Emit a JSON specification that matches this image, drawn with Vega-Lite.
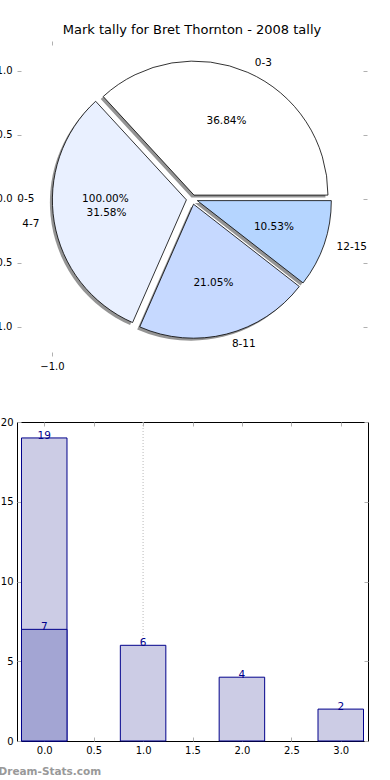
{
  "$schema": "https://vega.github.io/schema/vega-lite/v6.json",
  "autosize": "pad",
  "padding": {"left": -13, "top": 23, "right": 0, "bottom": 0},
  "background": "white",
  "bounds": "flush",
  "spacing": 66,
  "resolve": {"scale": {"color": "independent", "x": "independent", "y": "independent", "theta": "independent"}},
  "config": {
    "font": "DejaVu Sans",
    "view": {"stroke": null},
    "axis": {"grid": false, "domain": false, "labelFont": "DejaVu Sans", "labelFontSize": 10, "labelColor": "#000", "tickColor": "#b0b0b0", "tickSize": -4, "tickWidth": 1, "labelPadding": 9, "titleFont": "DejaVu Sans"},
    "text": {"font": "DejaVu Sans"}
  },
  "datasets": {
    "slices": [
      {"idx": 0, "label": "0-3", "count": 7, "pct": "36.84%", "ex": 0.014, "ey": 0.03},
      {"idx": 1, "label": "4-7", "count": 6, "pct": "31.58%", "ex": -0.04, "ey": -0.007},
      {"idx": 2, "label": "8-11", "count": 4, "pct": "21.05%", "ex": 0.011, "ey": -0.041},
      {"idx": 3, "label": "12-15", "count": 2, "pct": "10.53%", "ex": 0.038, "ey": -0.013}
    ],
    "extra": [
      {"label": "0-5", "pct": "100.00%", "ex": -0.04, "ey": 0}
    ],
    "bars": [
      {"bin": 0, "count": 19, "series": "all"},
      {"bin": 1, "count": 6, "series": "all"},
      {"bin": 2, "count": 4, "series": "all"},
      {"bin": 3, "count": 2, "series": "all"},
      {"bin": 0, "count": 7, "series": "player"}
    ],
    "grid": [{"pos": 1}]
  },
  "vconcat": [
    {
      "width": 350,
      "height": 315,
      "title": {"text": "Mark tally for Bret Thornton - 2008 tally", "font": "DejaVu Sans", "fontSize": 13, "fontWeight": "normal", "color": "#000", "baseline": "alphabetic", "offset": -6, "anchor": "middle"},
      "data": {"name": "slices"},
      "resolve": {"axis": {"x": "independent", "y": "independent"}},
      "encoding": {
        "x": {"field": "ex", "type": "quantitative", "scale": {"domain": [-1.25, 1.25], "nice": false, "zero": false}},
        "y": {"field": "ey", "type": "quantitative", "scale": {"domain": [-1.227, 1.234], "nice": false, "zero": false}}
      },
      "layer": [
        {
          "mark": {"type": "arc", "outerRadius": 134, "fill": "#4d4d4d", "opacity": 0.6, "xOffset": -2.5, "yOffset": 2.5},
          "encoding": {
            "x": {"field": "ex", "type": "quantitative", "axis": {"orient": "bottom", "values": [-1], "format": ".1f", "title": null, "labelPadding": 9}},
            "y": {"field": "ey", "type": "quantitative", "axis": {"orient": "left", "values": [-1, -0.5, 0, 0.5, 1], "format": ".1f", "title": null}},
            "theta": {"field": "count", "type": "quantitative", "stack": true, "scale": {"domain": [0, 19], "range": [1.5708, -4.7124]}},
            "order": {"field": "idx", "type": "quantitative"}
          }
        },
        {
          "mark": {"type": "arc", "outerRadius": 134, "stroke": "#000", "strokeWidth": 0.8},
          "encoding": {
            "x": {"field": "ex", "type": "quantitative", "axis": {"orient": "top", "values": [-1], "labels": false, "title": null}},
            "y": {"field": "ey", "type": "quantitative", "axis": {"orient": "right", "values": [-1, -0.5, 0, 0.5, 1], "labels": false, "title": null}},
            "theta": {"field": "count", "type": "quantitative", "stack": true},
            "order": {"field": "idx", "type": "quantitative"},
            "color": {"field": "label", "type": "nominal", "legend": null, "scale": {"domain": ["0-3", "4-7", "8-11", "12-15"], "range": ["#ffffff", "#e9f0ff", "#c6d9ff", "#b5d5ff"]}}
          }
        },
        {
          "mark": {"type": "text", "radius": 81, "fontSize": 10.5, "color": "#000"},
          "encoding": {
            "x": {"field": "ex", "type": "quantitative", "axis": null},
            "y": {"field": "ey", "type": "quantitative", "axis": null},
            "theta": {"field": "count", "type": "quantitative", "stack": true},
            "order": {"field": "idx", "type": "quantitative"},
            "text": {"field": "pct"}
          }
        },
        {
          "mark": {"type": "text", "radius": 144, "dx": 3, "fontSize": 10.5, "color": "#000", "align": "left"},
          "encoding": {
            "x": {"field": "ex", "type": "quantitative", "axis": null},
            "y": {"field": "ey", "type": "quantitative", "axis": null},
            "theta": {"field": "count", "type": "quantitative", "stack": true},
            "order": {"field": "idx", "type": "quantitative"},
            "text": {"condition": {"test": "datum.label !== '4-7'", "field": "label"}, "value": ""}
          }
        },
        {
          "mark": {"type": "text", "radius": 144, "dx": -5, "fontSize": 10.5, "color": "#000", "align": "right"},
          "encoding": {
            "x": {"field": "ex", "type": "quantitative", "axis": null},
            "y": {"field": "ey", "type": "quantitative", "axis": null},
            "theta": {"field": "count", "type": "quantitative", "stack": true},
            "order": {"field": "idx", "type": "quantitative"},
            "text": {"condition": {"test": "datum.label === '4-7'", "field": "label"}, "value": ""}
          }
        },
        {
          "data": {"name": "extra"},
          "mark": {"type": "text", "radius": 144, "dx": -8, "theta": 4.7124, "fontSize": 10.5, "color": "#000", "align": "right"},
          "encoding": {
            "x": {"field": "ex", "type": "quantitative", "axis": null},
            "y": {"field": "ey", "type": "quantitative", "axis": null},
            "text": {"field": "label"}
          }
        },
        {
          "data": {"name": "extra"},
          "mark": {"type": "text", "radius": 81, "theta": 4.7124, "fontSize": 10.5, "color": "#000", "align": "center"},
          "encoding": {
            "x": {"field": "ex", "type": "quantitative", "axis": null},
            "y": {"field": "ey", "type": "quantitative", "axis": null},
            "text": {"field": "pct"}
          }
        }
      ]
    },
    {
      "width": 351,
      "height": 319,
      "view": {"stroke": "#000", "strokeWidth": 1},
      "resolve": {"axis": {"x": "independent", "y": "independent"}},
      "layer": [
        {
          "data": {"name": "grid"},
          "mark": {"type": "rule", "stroke": "#b8b8b8", "strokeDash": [1, 2], "strokeWidth": 1},
          "encoding": {
            "x": {"field": "pos", "type": "quantitative", "scale": {"domain": [-0.225, 3.225], "nice": false, "zero": false}, "axis": {"orient": "top", "values": [0, 0.5, 1, 1.5, 2, 2.5, 3], "labels": false, "title": null}}
          }
        },
        {
          "data": {"name": "bars"},
          "mark": {"type": "bar", "width": 45.5, "stroke": "#00008b", "strokeWidth": 1},
          "encoding": {
            "x": {"field": "bin", "type": "quantitative", "axis": {"orient": "bottom", "values": [0, 0.5, 1, 1.5, 2, 2.5, 3], "format": ".1f", "labelPadding": 8, "title": "Dream-Stats.com", "titleColor": "#999", "titleFontSize": 10.5, "titleFontWeight": "bold", "titleAnchor": "start", "titleAlign": "left", "titleX": -19, "titleY": 30, "titleBaseline": "middle"}},
            "y": {"field": "count", "type": "quantitative", "stack": null, "scale": {"domain": [0, 20], "nice": false}, "axis": {"orient": "left", "values": [0, 5, 10, 15, 20], "title": null, "labelPadding": 8}},
            "color": {"field": "series", "type": "nominal", "legend": null, "scale": {"domain": ["all", "player"], "range": ["#cccce5", "#a3a5d3"]}}
          }
        },
        {
          "data": {"name": "bars"},
          "mark": {"type": "text", "fontSize": 10.5, "color": "#00008b", "baseline": "alphabetic", "dy": 1},
          "encoding": {
            "x": {"field": "bin", "type": "quantitative", "axis": null},
            "y": {"field": "count", "type": "quantitative", "stack": null, "axis": {"orient": "right", "values": [0, 5, 10, 15, 20], "labels": false, "title": null}},
            "text": {"field": "count"}
          }
        }
      ]
    }
  ]
}
